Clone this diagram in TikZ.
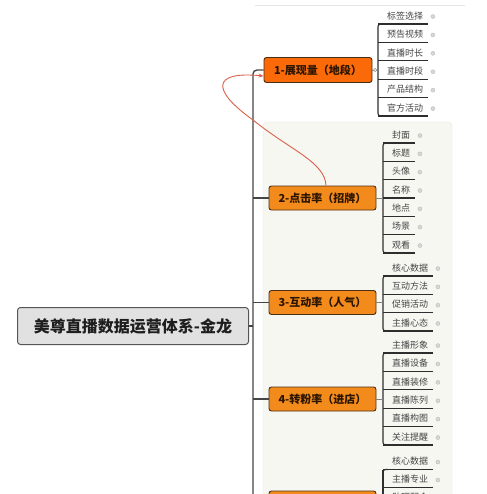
\documentclass[tikz,border=0pt]{standalone}
\usepackage{fontspec}
\setmainfont{Noto Sans CJK SC}
\usetikzlibrary{arrows.meta}
\definecolor{rootfill}{HTML}{E1E1E1}
\definecolor{rootline}{HTML}{555555}
\definecolor{roottext}{HTML}{1E1E1E}
\definecolor{firstfill}{HTML}{FA6A08}
\definecolor{boxfill}{HTML}{F38B1C}
\definecolor{boxline}{HTML}{4A2E14}
\definecolor{boxtext}{HTML}{2B1500}
\definecolor{leaftext}{HTML}{444444}
\definecolor{ulinec}{HTML}{2E2E2E}
\definecolor{dotc}{HTML}{BDBDBD}
\definecolor{panelfill}{HTML}{F7F7F2}
\definecolor{panelline}{HTML}{E3E3DD}
\definecolor{trunkc}{HTML}{454545}
\definecolor{redc}{HTML}{D9604C}

\begin{document}
\begin{tikzpicture}[x=1pt,y=-1pt,
	rootbox/.style={draw=rootline, fill=rootfill, line width=1pt, rounded corners=3pt,
	minimum width=231pt, minimum height=37pt, font=\fontsize{16}{18}\bfseries, text=roottext},
	branch/.style={draw=boxline, fill=boxfill, line width=0.9pt, rounded corners=2.5pt,
	minimum width=107pt, minimum height=24pt, font=\fontsize{11}{13}\bfseries, text=boxtext},
	leaf/.style={anchor=south west, inner xsep=0pt, inner ysep=3pt, text height=7pt,
	text depth=1.5pt, font=\fontsize{9}{10}\selectfont, text=leaftext},
	uline/.style={draw=ulinec, line width=1.1pt},
	stub/.style={draw=ulinec!60, line width=0.8pt},
	trunk/.style={draw=trunkc, line width=1.4pt}]
	\useasboundingbox (0,0) rectangle (486,494);
	\clip (0,0) rectangle (486,494);
	\draw[draw=black!10, line width=0.8pt] (255,5) -- (465,5);
	\draw[draw=panelline, fill=panelfill, rounded corners=4pt] (263,122) rectangle (452,530);

	% main topic and branches
	\node[rootbox] (root) at (133,326) {美尊直播数据运营体系-金龙};
	\node[branch, fill=firstfill, minimum width=108pt, minimum height=25pt] (b1) at (318,70) {1-展现量（地段）};
	\node[branch] (b2) at (322.5,198) {2-点击率（招牌）};
	\node[branch] (b3) at (322.5,302.5) {3-互动率（人气）};
	\node[branch] (b4) at (322.5,399) {4-转粉率（进店）};
	\node[branch] (b5) at (322.5,503) {};

	\coordinate (tr) at (253,326);
	\coordinate (tend) at (253,530);
	\draw[trunk, rounded corners=4pt] (b1.west) -| (tend);
	\draw[trunk] (root.east) -- (tr);
	\foreach \b in {b2,b3,b4,b5}
		\draw[trunk] (\b.west -| tr) -- (\b.west);

	% leaves
	\foreach \t [count=\i from 0] in {标签选择,预告视频,直播时长,直播时段,产品结构,官方活动}
		\node[leaf] (a-\i) at (387,{24+18.4*\i}) {\t};
	\foreach \t [count=\i from 0] in {封面,标题,头像,名称,地点,场景,观看}
		\node[leaf] (c-\i) at (392,{143+18.33*\i}) {\t};
	\foreach \t [count=\i from 0] in {核心数据,互动方法,促销活动,主播心态}
		\node[leaf] (d-\i) at (392,{276+18.33*\i}) {\t};
	\foreach \t [count=\i from 0] in {主播形象,直播设备,直播装修,直播陈列,直播构图,关注提醒}
		\node[leaf] (e-\i) at (392,{353+18.4*\i}) {\t};
	\foreach \t [count=\i from 0] in {核心数据,主播专业,助理配合}
		\node[leaf] (f-\i) at (392,{469.5+18*\i}) {\t};

	\foreach \g/\n in {a/5,c/6,d/3,e/5,f/2}{
		\foreach \i in {0,...,\n}{
			\draw[uline] ([xshift=-9pt]\g-\i.south west) -- ([xshift=5pt]\g-\i.south east);
			\filldraw[fill=dotc!60, draw=dotc, line width=0.4pt] ([xshift=9.5pt]\g-\i.east) circle (2pt);
		}
		\coordinate (\g v) at ([xshift=-9pt]\g-0.south west);
		\draw[uline, rounded corners=2.5pt] ([xshift=-4pt]\g-0.south west) -- (\g v)
			-- ([xshift=-9pt]\g-\n.south west) -- ([xshift=-4pt]\g-\n.south west);
	}
	\draw[uline] (fv) -- ([yshift=-40pt]fv);

	\draw[stub] (b1.east) -- (b1.east -| av);
	\draw[draw=black!45, fill=white, line width=0.5pt] ([xshift=2.6pt]b1.east) circle (1.6pt);
	\foreach \b/\g in {b2/c,b3/d,b4/e,b5/f}
		\draw[stub] (\b.east) -- (\b.east -| \g v);

	% relation
	\coordinate (rmid) at (253,120);
	\draw[redc, line width=0.9pt, -{Stealth[length=5pt,width=4pt]}] ([xshift=3.5pt]b2.north)
		.. controls (325,162) and (290,150) .. (rmid)
		.. controls (211,90) and (212,71) .. ([yshift=-6pt]b1.west);
\end{tikzpicture}
\end{document}
